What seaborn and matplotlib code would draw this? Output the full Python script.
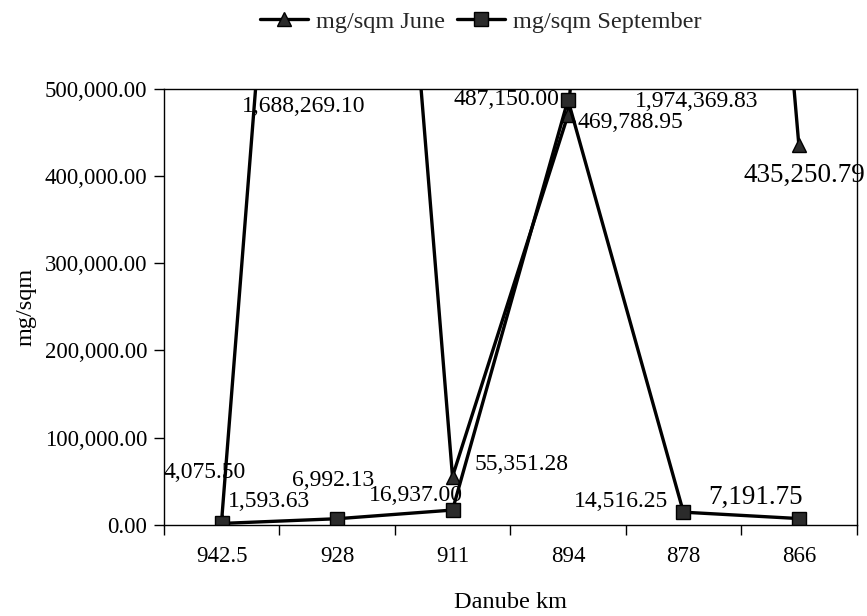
import numpy as np
import pandas as pd
import matplotlib
matplotlib.use("Agg")
import matplotlib.pyplot as plt
from matplotlib.ticker import FuncFormatter, FixedLocator
import seaborn as sns

# Sampling stations along the river (km) and measured loads (mg/sqm)
km = ["942.5", "928", "911", "894", "878", "866"]
june = [4075.50, 1688269.10, 55351.28, 469788.95, 1974369.83, 435250.79]
september = [1593.63, 6992.13, 16937.00, 487150.00, 14516.25, 7191.75]
series_names = ["mg/sqm June", "mg/sqm September"]
y_ticks = [0, 100000, 200000, 300000, 400000, 500000]
y_max = 500000

pos = list(range(len(km)))
df = pd.DataFrame({
    "pos": pos * 2,
    "value": june + september,
    "series": [series_names[0]] * len(km) + [series_names[1]] * len(km),
})

sns.set_theme(style="white")
plt.rcParams["font.family"] = ["Liberation Serif", "DejaVu Serif"]
plt.rcParams["axes.edgecolor"] = "black"
plt.rcParams["axes.linewidth"] = 1.0

fig = plt.figure(figsize=(8.67, 6.16), dpi=100)
ax = fig.add_axes([0.189, 0.148, 0.799, 0.708])

sns.lineplot(data=df, x="pos", y="value", hue="series", style="series",
             markers=["^", "s"], dashes=False, palette=["black", "black"],
             sort=False, linewidth=2.4, markersize=10, markeredgewidth=1.0,
             markeredgecolor="black", markerfacecolor="#2b2b2b",
             legend=False, ax=ax)

ax.set_xlim(-0.5, len(km) - 0.5)
ax.set_ylim(0, y_max)

# category labels centred, tick marks on the category boundaries
ax.xaxis.set_major_locator(FixedLocator(pos))
ax.set_xticklabels(km)
ax.xaxis.set_minor_locator(FixedLocator(np.arange(-0.5, len(km), 1.0)))
ax.tick_params(axis="x", which="major", length=0, pad=15, labelsize=16.5, colors="black")
ax.tick_params(axis="x", which="minor", length=7, width=1, direction="out",
               bottom=True, color="black")

ax.set_yticks(y_ticks)
ax.yaxis.set_major_formatter(FuncFormatter(lambda v, p: f"{v:,.2f}"))
ax.tick_params(axis="y", which="major", length=7, width=1, direction="out",
               left=True, pad=5, labelsize=16.5, colors="black")

ax.set_xlabel("Danube km", fontsize=17.5, labelpad=18, color="black")
ax.set_ylabel("mg/sqm", fontsize=17.5, labelpad=6, color="black")

for s in ax.spines.values():
    s.set_visible(True)
    s.set_color("black")
    s.set_linewidth(1.0)

# value labels: (dx, dy) offsets in pixels from the point, font size
june_offsets = [(-17, 49, 17), (-33, -18, 17), (69, 12, 17),
                (62, -7, 17), (13, -13, 17), (6, -30, 19.5)]
sep_offsets = [(47, 22, 17), (-4, 38, 17), (-37, 15, 17),
               (-62, 0, 17), (-62, 11, 17), (-43, 21, 19.5)]

for values, offsets in ((june, june_offsets), (september, sep_offsets)):
    for i, (v, (dx, dy, fs)) in enumerate(zip(values, offsets)):
        ax.annotate(f"{v:,.2f}", xy=(pos[i], min(v, y_max)),
                    xytext=(dx * 0.72, dy * 0.72), textcoords="offset points",
                    ha="center", va="center", fontsize=fs, color="black",
                    annotation_clip=False)

data_lines = [ln for ln in ax.get_lines() if len(ln.get_xdata()) == len(km)]
ax.legend(handles=data_lines[:2], labels=series_names, loc="center",
          bbox_to_anchor=(0.457, 1.154), ncol=2, frameon=False, fontsize=17.5,
          handlelength=2.0, handletextpad=0.3, columnspacing=0.5)

fig.savefig("out.png", dpi=100)
